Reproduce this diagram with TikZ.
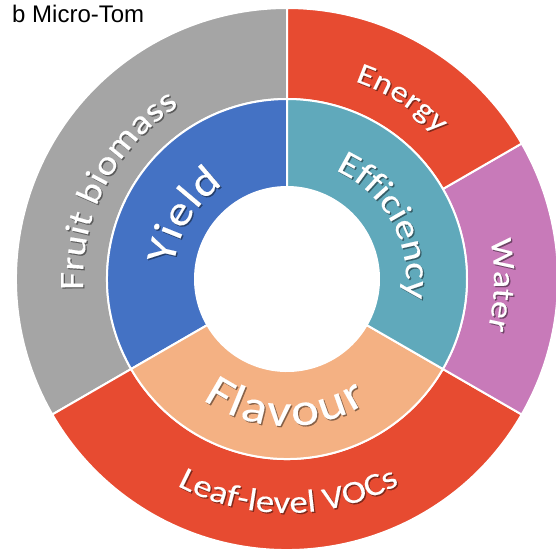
\documentclass[tikz,border=0pt]{standalone}
\usepackage{fontspec}
\setmainfont{Carlito}
\newfontfamily\titlefont{Liberation Sans}
\newfontfamily\ringfont[FakeStretch=1.15,FakeBold=0.3]{Carlito}
\usetikzlibrary{decorations.text}

\definecolor{fruitgray}{RGB}{165,165,165}
\definecolor{vocred}{RGB}{231,75,49}
\definecolor{yieldblue}{RGB}{68,114,196}
\definecolor{efftteal}{RGB}{96,169,187}
\definecolor{flavpeach}{RGB}{244,177,131}
\definecolor{waterpink}{RGB}{200,122,185}

\begin{document}
\begin{tikzpicture}
%----------estilos---------
\tikzset{sector/.style={
draw=white,
line width=2pt,
line join=round},
ringtext/.style n args={3}{
decorate,
decoration={text along path,
text align={fit to path},
text={|\ringfont\fontsize{#1}{#1}\selectfont\color{#2}|#3}}}};

\useasboundingbox (-287pt,-271pt) rectangle (269pt,279pt);

\node [anchor=base west,inner sep=0pt,font=\titlefont\fontsize{24}{24}\selectfont] (title) at (-275pt,257pt) {b Micro-Tom};

%------------ anillo exterior---------------
\draw [sector,fill=fruitgray](90:180pt) arc (90:210:180pt)--(210:271pt) arc (210:90:271pt)--cycle;
\draw [sector,fill=vocred](210:180pt) arc (210:330:180pt)--(330:271pt) arc (330:210:271pt)--cycle;
\draw [sector,fill=waterpink](-30:180pt) arc (-30:30:180pt)--(30:271pt) arc (30:-30:271pt)--cycle;
\draw [sector,fill=vocred](30:180pt) arc (30:90:180pt)--(90:271pt) arc (90:30:271pt)--cycle;

%------------ anillo interior---------------
\draw [sector,fill=yieldblue](90:92pt) arc (90:210:92pt)--(210:180pt) arc (210:90:180pt)--cycle;
\draw [sector,fill=flavpeach](210:92pt) arc (210:330:92pt)--(330:180pt) arc (330:210:180pt)--cycle;
\draw [sector,fill=efftteal](-30:92pt) arc (-30:90:92pt)--(90:180pt) arc (90:-30:180pt)--cycle;

% -----------textos exteriores----------------
\path [ringtext={34}{fruitgray!55!black}{Fruit biomass},shift={(1.3pt,-1.3pt)}](183:204pt) arc (183:122:204pt);
\path [ringtext={34}{white}{Fruit biomass}](183:204pt) arc (183:122:204pt);

\path [ringtext={30}{vocred!55!black}{Energy},shift={(1.3pt,-1.3pt)}](71:209pt) arc (71:44:209pt);
\path [ringtext={30}{white}{Energy}](71:209pt) arc (71:44:209pt);

\path [ringtext={31}{waterpink!55!black}{Water},shift={(1.3pt,-1.3pt)}](11:207pt) arc (11:-13:207pt);
\path [ringtext={31}{white}{Water}](11:207pt) arc (11:-13:207pt);

\path [ringtext={32}{vocred!55!black}{Leaf-level VOCs},shift={(1.3pt,-1.3pt)}](242:234pt) arc (242:298:234pt);
\path [ringtext={32}{white}{Leaf-level VOCs}](242:234pt) arc (242:298:234pt);

% -----------textos interiores----------------
\path [ringtext={42}{yieldblue!55!black}{Yield},shift={(1.3pt,-1.3pt)}](173:114pt) arc (173:124:114pt);
\path [ringtext={42}{white}{Yield}](173:114pt) arc (173:124:114pt);

\path [ringtext={35}{efftteal!55!black}{Efficiency},shift={(1.3pt,-1.3pt)}](66:119pt) arc (66:-8:119pt);
\path [ringtext={35}{white}{Efficiency}](66:119pt) arc (66:-8:119pt);

\path [ringtext={46}{flavpeach!55!black}{Flavour},shift={(1.3pt,-1.3pt)}](235:147pt) arc (235:303:147pt);
\path [ringtext={46}{white}{Flavour}](235:147pt) arc (235:303:147pt);
\end{tikzpicture}
\end{document}
